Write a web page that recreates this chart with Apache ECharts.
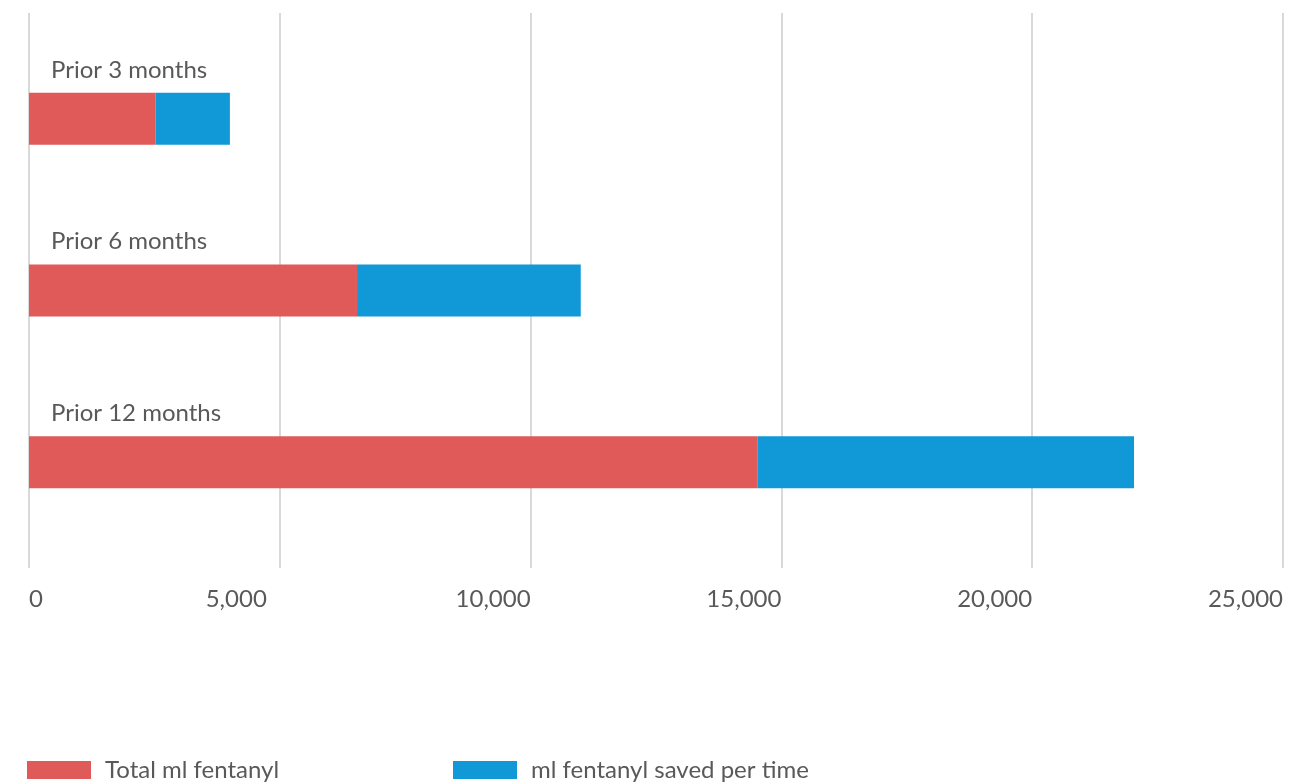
<!DOCTYPE html>
<html>
<head>
<meta charset="utf-8">
<script src="https://cdn.jsdelivr.net/npm/echarts@6/dist/echarts.min.js"></script>
<style>
  html, body { margin: 0; padding: 0; background: #fff; }
  #chart { width: 1316px; height: 784px; }
</style>
</head>
<body>
<div id="chart"></div>
<script>
// fentanyl bars
var categories = ["Prior 3 months", "Prior 6 months", "Prior 12 months"];
var totalMl = [2525, 6540, 14520];
var savedMl = [1480, 4460, 7510];
var xTicks = [0, 5000, 10000, 15000, 20000, 25000];

(function () {
    var myChart = echarts.init(document.getElementById("chart"));
    var textColor = "#595959";
    var font = "Lato";

    var option = {
        animation: false,
        color: ["#E05A5A", "#1198D6"],
        legend: [
            {
                left: 22,
                top: 753,
                itemWidth: 64,
                itemHeight: 18,
                icon: "rect",
                data: ["Total ml fentanyl"],
                textStyle: { color: textColor, fontSize: 24, fontFamily: font, padding: [0, 0, 0, 9] }
            },
            {
                left: 448,
                top: 753,
                itemWidth: 64,
                itemHeight: 18,
                icon: "rect",
                data: ["ml fentanyl saved per time"],
                textStyle: { color: textColor, fontSize: 24, fontFamily: font, padding: [0, 0, 0, 9] }
            }
        ],
        grid: [
            // bars
            { left: 29, right: 33, top: 33, bottom: 236 },
            // gridlines + x labels
            { left: 29, right: 33, top: 13, bottom: 216 }
        ],
        xAxis: [
            {
                gridIndex: 0,
                type: "value",
                min: xTicks[0],
                max: xTicks[xTicks.length - 1],
                interval: 5000,
                show: false
            },
            {
                gridIndex: 1,
                type: "value",
                min: xTicks[0],
                max: xTicks[xTicks.length - 1],
                interval: 5000,
                axisLine: { show: false },
                axisTick: { show: false },
                splitLine: { lineStyle: { color: "#d9d9d9", width: 2 } },
                axisLabel: {
                    color: textColor,
                    fontSize: 24,
                    fontFamily: font,
                    margin: 19,
                    align: "right",
                    alignMinLabel: "left",
                    formatter: function (v) {
                        var s = v.toLocaleString("en-US");
                        if (v === 5000) return "{p|" + s + "}";
                        return s;
                    },
                    rich: {
                        p: { color: textColor, fontSize: 24, fontFamily: font, padding: [0, 13, 0, 0] }
                    }
                }
            }
        ],
        yAxis: [
            {
                gridIndex: 0,
                type: "category",
                inverse: true,
                data: categories,
                axisLine: { show: false },
                axisTick: { show: false },
                axisLabel: {
                    inside: true,
                    margin: 22,
                    align: "left",
                    verticalAlign: "bottom",
                    lineHeight: 28,
                    padding: [0, 0, 35, 0],
                    color: textColor,
                    fontSize: 24,
                    fontFamily: font
                }
            },
            {
                gridIndex: 1,
                type: "value",
                show: false
            }
        ],
        series: [
            {
                name: "Total ml fentanyl",
                type: "bar",
                stack: "ml",
                xAxisIndex: 0,
                yAxisIndex: 0,
                barWidth: 52,
                data: totalMl
            },
            {
                name: "ml fentanyl saved per time",
                type: "bar",
                stack: "ml",
                xAxisIndex: 0,
                yAxisIndex: 0,
                barWidth: 52,
                data: savedMl
            }
        ]
    };

    myChart.setOption(option);
})();
</script>
</body>
</html>
